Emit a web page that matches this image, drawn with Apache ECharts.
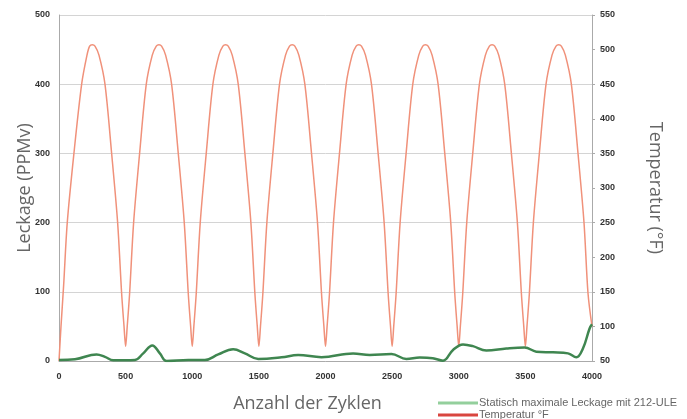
<!DOCTYPE html>
<html>
<head>
<meta charset="utf-8">
<script src="https://cdn.jsdelivr.net/npm/echarts@6/dist/echarts.min.js"></script>
<style>
  html, body { margin: 0; padding: 0; background: #fff; }
  #chart { width: 687px; height: 419px; }
</style>
</head>
<body>
<div id="chart"></div>
<script>
// Leckage (PPMv), left axis
const leakCycles = [0, 120, 282, 345, 407, 570, 632, 700, 757, 807, 970, 1095, 1195, 1307, 1395, 1495,
  1670, 1795, 1970, 2207, 2332, 2495, 2607, 2707, 2805, 2882, 2957, 3032, 3107, 3207, 3357, 3495,
  3582, 3707, 3820, 3882, 3932, 3982, 4000];
const leakValues = [1.5, 2.5, 9.5, 6, 1, 1.5, 11, 22.5, 11, 0, 1.5, 1.5, 9.5, 17, 11, 3,
  5.3, 8.7, 5.5, 11, 8.7, 10, 3, 5, 4, 0.5, 16, 24, 21.5, 15, 18, 19.5,
  13.5, 12.5, 11, 5.3, 18, 47, 53];

// Temperatur °F, right axis
const tempCycles = [0, 15, 35, 62, 112, 170, 210, 230, 250,
  270, 300, 345, 395, 440, 470, 488, 500, 512, 530, 560, 605, 655, 700, 730, 750,
  770, 800, 845, 895, 940, 970, 988, 1000, 1012, 1030, 1060, 1105, 1155, 1200, 1230, 1250,
  1270, 1300, 1345, 1395, 1440, 1470, 1488, 1500, 1512, 1530, 1560, 1605, 1655, 1700, 1730, 1750,
  1770, 1800, 1845, 1895, 1940, 1970, 1988, 2000, 2012, 2030, 2060, 2105, 2155, 2200, 2230, 2250,
  2270, 2300, 2345, 2395, 2440, 2470, 2488, 2500, 2512, 2530, 2560, 2605, 2655, 2700, 2730, 2750,
  2770, 2800, 2845, 2895, 2940, 2970, 2988, 3000, 3012, 3030, 3060, 3105, 3155, 3200, 3230, 3250,
  3270, 3300, 3345, 3395, 3440, 3470, 3488, 3500, 3512, 3530, 3560, 3605, 3655, 3700, 3730, 3750,
  3770, 3800, 3845, 3895, 3940, 3970, 4000];
const tempValues = [50, 100, 160, 250, 350, 450, 492, 505, 507,
  505, 492, 450, 350, 250, 148, 100, 71, 100, 148, 250, 350, 450, 492, 505, 507,
  505, 492, 450, 350, 250, 148, 100, 71, 100, 148, 250, 350, 450, 492, 505, 507,
  505, 492, 450, 350, 250, 148, 100, 71, 100, 148, 250, 350, 450, 492, 505, 507,
  505, 492, 450, 350, 250, 148, 100, 71, 100, 148, 250, 350, 450, 492, 505, 507,
  505, 492, 450, 350, 250, 148, 100, 71, 100, 148, 250, 350, 450, 492, 505, 507,
  505, 492, 450, 350, 250, 148, 100, 71, 100, 148, 250, 350, 450, 492, 505, 507,
  505, 492, 450, 350, 250, 148, 100, 71, 100, 148, 250, 350, 450, 492, 505, 507,
  505, 492, 450, 350, 250, 148, 100];

const leakName = 'Statisch maximale Leckage mit 212-ULE';
const tempName = 'Temperatur °F';

const chart = echarts.init(document.getElementById('chart'));

const tickLabel = {
    fontSize: 9,
    color: '#333',
    fontWeight: 'bold',
    fontFamily: 'Liberation Sans',
    formatter: v => String(v)
};
const axisTitle = {
    fontSize: 18,
    color: '#666',
    fontFamily: 'Open Sans'
};

const option = {
    backgroundColor: '#fff',
    animation: false,
    grid: {
        left: 59,
        right: 95,
        top: 15,
        bottom: 58,
        outerBoundsMode: 'none'
    },
    legend: {
        orient: 'vertical',
        left: 438,
        top: 397,
        height: 40,
        padding: 0,
        itemGap: 0,
        itemWidth: 40,
        itemHeight: 3,
        icon: 'rect',
        textStyle: {
            fontSize: 11,
            lineHeight: 12,
            color: '#666',
            fontFamily: 'Liberation Sans',
            padding: [0, 0, 0, -4]
        },
        data: [
            { name: leakName, itemStyle: { color: '#93cf9c' } },
            { name: tempName, itemStyle: { color: '#d9453f' } }
        ]
    },
    xAxis: {
        type: 'value',
        min: 0,
        max: 4000,
        interval: 500,
        name: 'Anzahl der Zyklen',
        nameLocation: 'middle',
        nameGap: 34,
        nameMoveOverlap: false,
        nameTextStyle: Object.assign({ padding: [0, 36, 0, 0] }, axisTitle),
        axisLine: { show: true, lineStyle: { color: '#aaa' } },
        axisTick: { show: false },
        splitLine: { show: false },
        axisLabel: Object.assign({ margin: 11 }, tickLabel)
    },
    yAxis: [
        {
            type: 'value',
            min: 0,
            max: 500,
            interval: 100,
            name: 'Leckage (PPMv)',
            nameLocation: 'middle',
            nameGap: 25,
            nameMoveOverlap: false,
            nameTextStyle: axisTitle,
            axisLine: { show: true, lineStyle: { color: '#aaa' } },
            axisTick: { show: false },
            splitLine: { lineStyle: { color: '#d4d4d4' } },
            axisLabel: Object.assign({ margin: 9 }, tickLabel)
        },
        {
            type: 'value',
            min: 50,
            max: 550,
            interval: 50,
            name: 'Temperatur (°F)',
            nameLocation: 'middle',
            nameRotate: -90,
            nameGap: 54,
            nameMoveOverlap: false,
            nameTextStyle: axisTitle,
            axisLine: { show: true, lineStyle: { color: '#aaa' } },
            axisTick: { show: true, length: 3, lineStyle: { color: '#aaa' } },
            splitLine: { show: false },
            axisLabel: Object.assign({ margin: 8 }, tickLabel)
        }
    ],
    series: [
        {
            name: tempName,
            type: 'line',
            yAxisIndex: 1,
            smooth: 0.3,
            symbol: 'none',
            lineStyle: { color: '#f0917a', width: 1.5 },
            itemStyle: { color: '#d9453f' },
            data: tempCycles.map((c, i) => [c, tempValues[i]])
        },
        {
            name: leakName,
            type: 'line',
            yAxisIndex: 0,
            smooth: 0.4,
            symbol: 'none',
            lineStyle: { color: '#3f8650', width: 2.5 },
            itemStyle: { color: '#93cf9c' },
            data: leakCycles.map((c, i) => [c, leakValues[i]])
        }
    ]
};

chart.setOption(option);
</script>
</body>
</html>
